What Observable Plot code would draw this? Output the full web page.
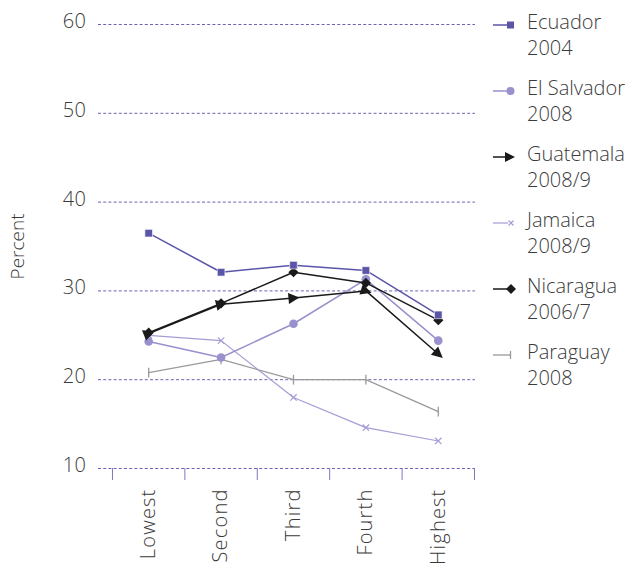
<!DOCTYPE html>
<html>
<head>
<meta charset="utf-8">
<script src="https://cdn.jsdelivr.net/npm/d3@7"></script>
<script src="https://cdn.jsdelivr.net/npm/@observablehq/plot@0.6"></script>
<style>
  html, body { margin: 0; padding: 0; background: #fff; }
  #wrap { position: relative; width: 629px; height: 568px; font-family: "Open Sans", sans-serif; font-weight: 300; color: #3b3b3b; }
  #legend { position: absolute; left: 0; top: 0; }
  .item { position: absolute; left: 527px; font-size: 20px; line-height: 26.5px; white-space: nowrap; }
  .sym { position: absolute; left: 490px; }
  .xlab { letter-spacing: 1.2px; }
  .ylab { letter-spacing: 0.5px; }
</style>
</head>
<body>
<div id="wrap"><div id="legend"></div></div>
<script>
const categories = ["Lowest", "Second", "Third", "Fourth", "Highest"];
const ecuador    = [36.5, 32.1, 32.9, 32.3, 27.3];
const elSalvador = [24.3, 22.5, 26.3, 31.3, 24.4];
const guatemala  = [25.2, 28.5, 29.2, 30.0, 22.9];
const jamaica    = [25.0, 24.4, 18.0, 14.6, 13.1];
const nicaragua  = [25.3, 28.6, 32.1, 30.9, 26.7];
const paraguay   = [20.8, 22.3, 20.0, 20.0, 16.4];
const seriesNames = ["Ecuador", "El Salvador", "Guatemala", "Jamaica", "Nicaragua", "Paraguay"];
const seriesYears = ["2004", "2008", "2008/9", "2008/9", "2006/7", "2008"];
const yTicks = [10, 20, 30, 40, 50, 60];

const C = {
  ecuador: "#5b55a8",
  elSalvador: "#9891cd",
  black: "#1a1a1a",
  jamaica: "#a39dd6",
  paraguay: "#9a9a9a",
  grid: "#6a65b3",
  tick: "#7d78bf"
};

const rows = arr => arr.map((v, i) => ({i: i + 1, v}));
const positions = categories.map((_, i) => i + 1);
const boundaries = [...categories.map((_, i) => i + 0.5), categories.length + 0.5];

// vertical bar symbol for Paraguay
const vbar = {draw(ctx, size) { const h = Math.sqrt(size) * 0.55; ctx.moveTo(0, -h); ctx.lineTo(0, h); }};

// arrowhead marker for Guatemala
function triMarker(color) {
  const m = d3.create("svg:marker")
    .attr("viewBox", "-6 -6 12 12")
    .attr("markerWidth", 12)
    .attr("markerHeight", 12)
    .attr("markerUnits", "userSpaceOnUse")
    .attr("orient", "auto");
  m.append("path").attr("d", "M-5,-5.5L6,0L-5,5.5Z").attr("fill", color).attr("stroke", "none");
  return m.node();
}

const chart = Plot.plot({
  width: 629,
  height: 568,
  marginLeft: 98,
  marginRight: 154,
  marginTop: 24,
  marginBottom: 100,
  style: {fontFamily: "'Open Sans', sans-serif", fontSize: "20px", color: "#3b3b3b", fontWeight: 300, background: "transparent"},
  x: {domain: [0.307, 5.514]},
  y: {domain: [10, 60]},
  marks: [
    Plot.ruleY(yTicks, {stroke: C.grid, strokeWidth: 1, strokeDasharray: "3,2.2"}),
    Plot.axisX({ticks: boundaries, tickSize: 12, tickFormat: () => "", stroke: C.tick, strokeOpacity: 1, label: null}),
    Plot.axisX({ticks: positions, tickSize: 0, tickPadding: 20, tickRotate: -90, tickFormat: d => categories[d - 1], fontSize: 20, className: "xlab", label: null}),
    Plot.axisY({ticks: yTicks, tickSize: 0, tickPadding: 12, dy: -3, fontSize: 20, className: "ylab", label: null}),
    Plot.axisY({ticks: [], tickSize: 0, label: "Percent", labelAnchor: "center", labelArrow: "none", labelOffset: 88, fontSize: 19}),

    Plot.line(rows(paraguay), {x: "i", y: "v", stroke: C.paraguay, strokeWidth: 1.3}),
    Plot.dot(rows(paraguay), {x: "i", y: "v", symbol: vbar, r: 5, stroke: C.paraguay, strokeWidth: 1.3, fill: "none"}),

    Plot.line(rows(jamaica), {x: "i", y: "v", stroke: C.jamaica, strokeWidth: 1.2}),
    Plot.dot(rows(jamaica), {x: "i", y: "v", symbol: "times", r: 3, stroke: C.jamaica, strokeWidth: 1.2}),

    Plot.line(rows(elSalvador), {x: "i", y: "v", stroke: C.elSalvador, strokeWidth: 1.5}),
    Plot.dot(rows(elSalvador), {x: "i", y: "v", symbol: "circle", r: 4.3, fill: C.elSalvador, stroke: "none"}),

    Plot.line(rows(nicaragua), {x: "i", y: "v", stroke: C.black, strokeWidth: 1.5}),
    Plot.dot(rows(nicaragua), {x: "i", y: "v", symbol: "diamond2", r: 4.6, fill: C.black, stroke: "none"}),

    Plot.line(rows(guatemala), {x: "i", y: "v", stroke: C.black, strokeWidth: 1.5, marker: triMarker}),

    Plot.line(rows(ecuador), {x: "i", y: "v", stroke: C.ecuador, strokeWidth: 1.5}),
    Plot.dot(rows(ecuador), {x: "i", y: "v", symbol: "square", r: 4.3, fill: C.ecuador, stroke: "#ffffff", strokeWidth: 0.6})
  ]
});
document.getElementById("wrap").prepend(chart);

// Legend
const legendSym = [
  `<line x1="3" y1="7" x2="18" y2="7" stroke="${C.ecuador}" stroke-width="1.5"/><rect x="17" y="3.5" width="7" height="7" fill="${C.ecuador}"/>`,
  `<line x1="3" y1="7" x2="18" y2="7" stroke="${C.elSalvador}" stroke-width="1.5"/><circle cx="20.5" cy="7" r="4" fill="${C.elSalvador}"/>`,
  `<line x1="3" y1="7" x2="17" y2="7" stroke="${C.black}" stroke-width="1.5"/><path d="M15,2L25,7L15,12Z" fill="${C.black}"/>`,
  `<line x1="3" y1="7" x2="18" y2="7" stroke="${C.jamaica}" stroke-width="1.2"/><path d="M18.5,4.5L23.5,9.5M23.5,4.5L18.5,9.5" stroke="${C.jamaica}" stroke-width="1.2"/>`,
  `<line x1="3" y1="7" x2="18" y2="7" stroke="${C.black}" stroke-width="1.5"/><path d="M21,2L26,7L21,12L16,7Z" fill="${C.black}"/>`,
  `<line x1="3" y1="7" x2="20" y2="7" stroke="${C.paraguay}" stroke-width="1.3"/><line x1="20.5" y1="3" x2="20.5" y2="11" stroke="${C.paraguay}" stroke-width="1.3"/>`
];
const legend = document.getElementById("legend");
seriesNames.forEach((name, k) => {
  const cy = 22 + k * 66;
  const s = document.createElement("div");
  s.className = "sym";
  s.style.top = (cy - 7) + "px";
  s.innerHTML = `<svg width="30" height="14">${legendSym[k]}</svg>`;
  legend.appendChild(s);
  const t = document.createElement("div");
  t.className = "item";
  t.style.top = (cy - 13.5) + "px";
  t.innerHTML = `${name}<br>${seriesYears[k]}`;
  legend.appendChild(t);
});
</script>
</body>
</html>
